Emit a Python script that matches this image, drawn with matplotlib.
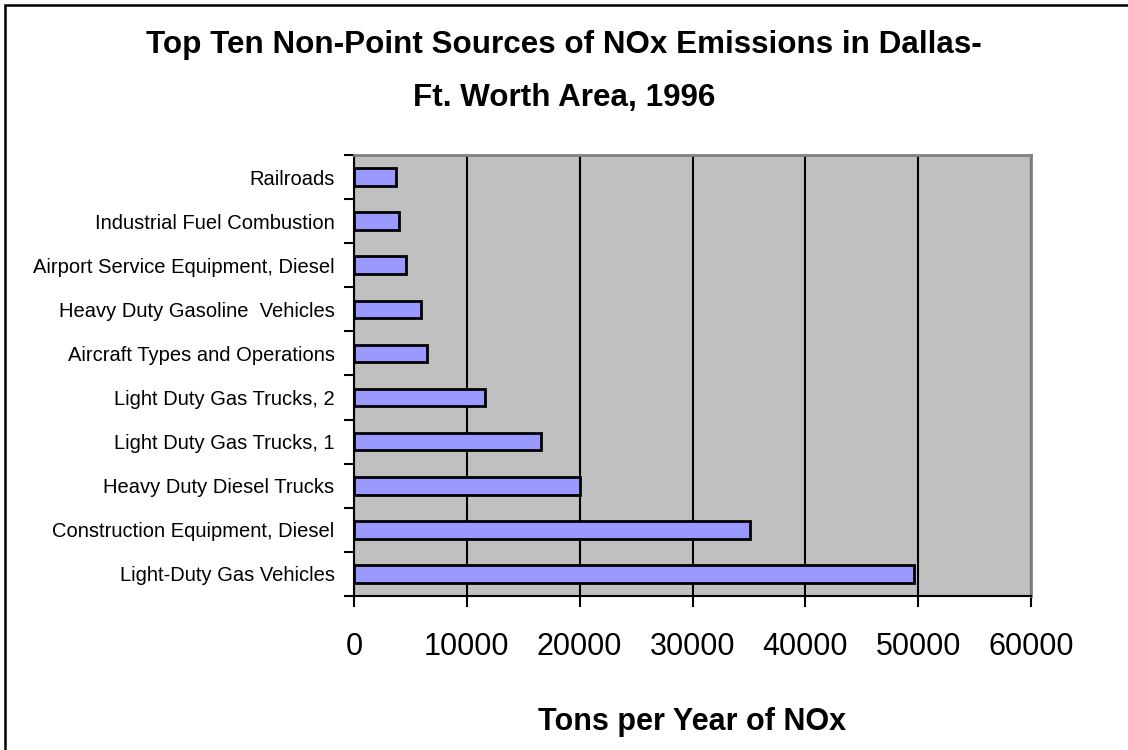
import matplotlib.pyplot as plt
from matplotlib.patches import Rectangle
import numpy as np

plt.rcParams['font.family'] = ['Liberation Sans', 'DejaVu Sans']

# data, bottom to top as drawn
sources = [
    "Light-Duty Gas Vehicles",
    "Construction Equipment, Diesel",
    "Heavy Duty Diesel Trucks",
    "Light Duty Gas Trucks, 1",
    "Light Duty Gas Trucks, 2",
    "Aircraft Types and Operations",
    "Heavy Duty Gasoline  Vehicles",
    "Airport Service Equipment, Diesel",
    "Industrial Fuel Combustion",
    "Railroads",
]
tons = [49650, 35100, 20000, 16600, 11650, 6450, 5900, 4650, 3950, 3750]
x_ticks = [0, 10000, 20000, 30000, 40000, 50000, 60000]

fig = plt.figure(figsize=(11.28, 7.5), dpi=100)
ax = fig.add_axes([354/1128, 1 - 596/750, (1031 - 354)/1128, (596 - 155)/750])

# outer chart frame (only left/top edges show in the reference)
fig.patches.append(Rectangle((5/1128, -0.1), 1.2, 1 - 5/750 + 0.1,
                             transform=fig.transFigure, fill=False,
                             edgecolor='black', linewidth=1.8))

ypos = np.arange(len(sources))
ax.set_facecolor('#C0C0C0')
ax.barh(ypos, tons, height=0.4, color='#9999FF', edgecolor='black',
        linewidth=2, zorder=3)

ax.set_xlim(0, 60000)
ax.set_ylim(-0.5, len(sources) - 0.5)
ax.set_xticks(x_ticks)
ax.set_xticklabels([str(v) for v in x_ticks], fontsize=22)
ax.set_yticks(ypos)
ax.set_yticklabels(sources, fontsize=14.5)
ax.set_yticks(np.arange(-0.5, len(sources)), minor=True)
ax.tick_params(axis='y', which='major', length=0, pad=14)
ax.tick_params(axis='y', which='minor', length=7, width=1.5, direction='out')
ax.tick_params(axis='x', which='major', length=8, width=1.5, direction='out', pad=18)

ax.grid(axis='x', color='black', linewidth=1.5, zorder=1)
ax.set_axisbelow(True)

for side in ['left', 'bottom']:
    ax.spines[side].set_color('black')
    ax.spines[side].set_linewidth(1.5)
for side in ['top', 'right']:
    ax.spines[side].set_color('#808080')
    ax.spines[side].set_linewidth(2)

fig.text(0.5, 1 - 45/750, "Top Ten Non-Point Sources of NOx Emissions in Dallas-",
         ha='center', va='center', fontsize=22.6, fontweight='bold')
fig.text(0.5, 1 - 98/750, "Ft. Worth Area, 1996",
         ha='center', va='center', fontsize=22.6, fontweight='bold')
fig.text((354 + 1031)/2/1128, 1 - 722/750, "Tons per Year of NOx",
         ha='center', va='center', fontsize=22, fontweight='bold')

fig.savefig('out.png', dpi=100)
